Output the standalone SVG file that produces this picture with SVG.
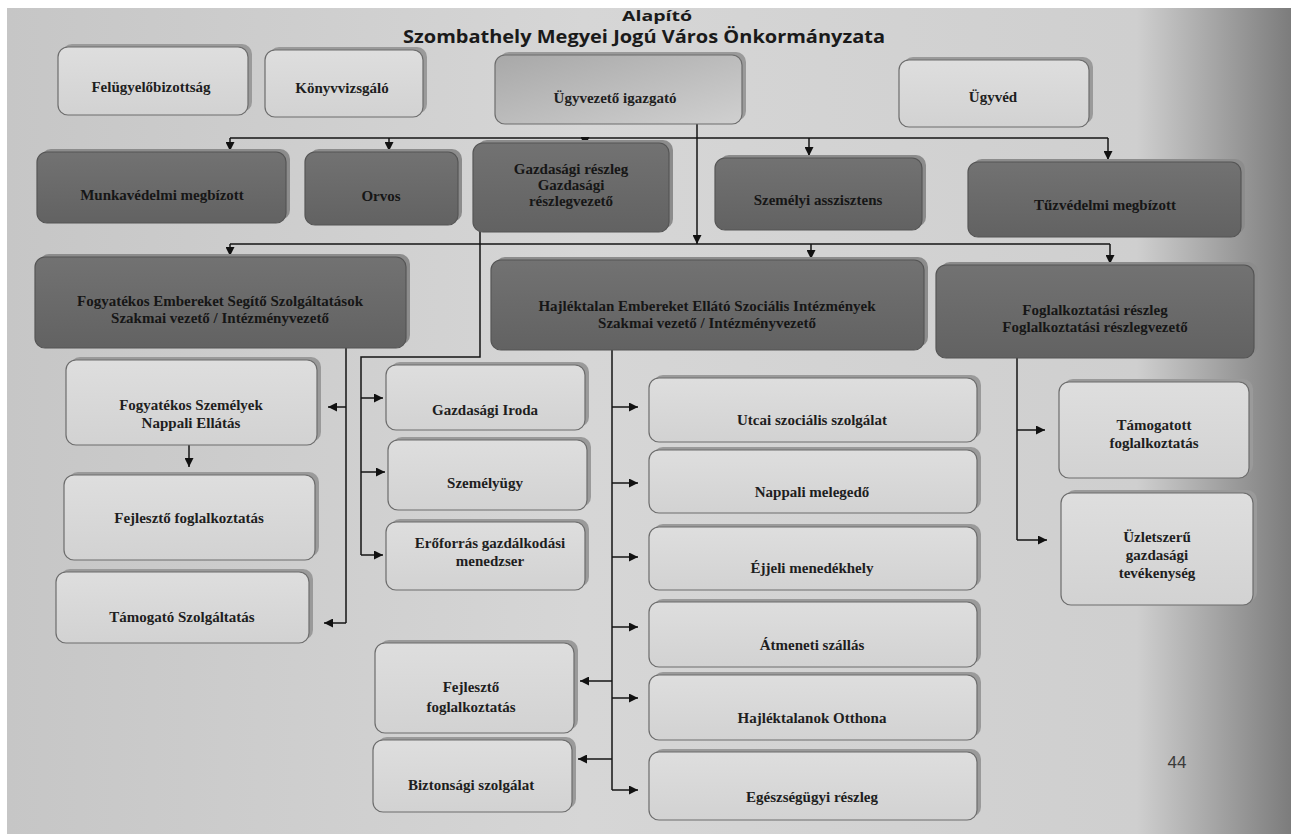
<svg xmlns="http://www.w3.org/2000/svg" width="1291" height="834" viewBox="0 0 1291 834">
<defs>
<linearGradient id="page" x1="0" y1="0" x2="1" y2="0">
<stop offset="0" stop-color="#c6c6c6"/>
<stop offset="0.45" stop-color="#d6d6d6"/>
<stop offset="0.88" stop-color="#cfcfcf"/>
<stop offset="1" stop-color="#7c7c7c"/>
</linearGradient>
<linearGradient id="light" x1="0" y1="0" x2="0" y2="1">
<stop offset="0" stop-color="#dedede"/>
<stop offset="1" stop-color="#d2d2d2"/>
</linearGradient>
<linearGradient id="boss" x1="0" y1="0" x2="1" y2="1">
<stop offset="0" stop-color="#a8a8a8"/>
<stop offset="1" stop-color="#d0d0d0"/>
</linearGradient>
<linearGradient id="dark" x1="0" y1="0" x2="0" y2="1">
<stop offset="0" stop-color="#727272"/>
<stop offset="1" stop-color="#626262"/>
</linearGradient>
<marker id="ah" viewBox="0 0 10 10" refX="10" refY="5" markerWidth="9" markerHeight="9" markerUnits="userSpaceOnUse" orient="auto">
<path d="M0,0 L10,5 L0,10 z" fill="#111"/>
</marker>
</defs>
<style>
.sh{fill:#9a9a9a}
.lb{fill:url(#light);stroke:#6d6d6d;stroke-width:1.2}
.db{fill:url(#dark);stroke:#555;stroke-width:1.2}
.shd{fill:#8c8c8c}
.t{font-family:"Liberation Serif","Times New Roman",serif;font-size:15px;font-weight:bold;fill:#1e1e1e;text-anchor:middle}
.td{font-family:"Liberation Serif","Times New Roman",serif;font-size:15px;font-weight:bold;fill:#161616;text-anchor:middle}
.ttl{font-family:"Open Sans","Liberation Sans",sans-serif;font-weight:bold;fill:#1a1a1a;text-anchor:middle}
.c{fill:none;stroke:#141414;stroke-width:1.5}
.a{fill:none;stroke:#141414;stroke-width:1.5;marker-end:url(#ah)}
</style>
<rect x="0" y="0" width="1291" height="834" fill="#ffffff"/>
<rect x="7" y="8" width="1284" height="826" fill="url(#page)"/>

<g id="title">
<text class="ttl" x="657" y="21" font-size="14" textLength="70" lengthAdjust="spacingAndGlyphs">Alapító</text>
<text class="ttl" x="644" y="43" font-size="17" textLength="482" lengthAdjust="spacingAndGlyphs">Szombathely Megyei Jogú Város Önkormányzata</text>
</g>

<g id="connectors">
<path class="c" d="M230,138 H1108"/>
<path class="a" d="M230,138 V151"/>
<path class="a" d="M389,138 V151"/>
<path class="a" d="M585,138 V146"/>
<path class="a" d="M809,138 V156"/>
<path class="a" d="M1108,138 V160"/>
<path class="a" d="M697,124 V244"/>
<path class="c" d="M230,244 H1110"/>
<path class="a" d="M230,244 V256"/>
<path class="a" d="M811,244 V259"/>
<path class="a" d="M1110,244 V264"/>
<path class="c" d="M480,232 V357 H361 V555"/>
<path class="a" d="M361,398 H383"/>
<path class="a" d="M361,472 H385"/>
<path class="a" d="M361,555 H383"/>
<path class="c" d="M346,348 V623"/>
<path class="a" d="M346,407 H328"/>
<path class="a" d="M346,623 H324"/>
<path class="a" d="M189,445 V467"/>
<path class="c" d="M612,350 V790"/>
<path class="a" d="M612,407 H638"/>
<path class="a" d="M612,483 H638"/>
<path class="a" d="M612,557 H638"/>
<path class="a" d="M612,627 H638"/>
<path class="a" d="M612,698 H638"/>
<path class="a" d="M612,790 H638"/>
<path class="a" d="M612,681 H580"/>
<path class="a" d="M612,759 H578"/>
<path class="c" d="M1017,358 V540"/>
<path class="a" d="M1017,430 H1045"/>
<path class="a" d="M1017,540 H1047"/>
</g>

<g id="n-felugyelo">
<rect class="sh" x="62" y="44" width="190" height="68" rx="10"/>
<rect class="lb" x="58" y="47" width="190" height="68" rx="10"/>
<text class="t" x="151" y="92">Felügyelőbizottság</text>
</g>
<g id="n-konyvvizsgalo">
<rect class="sh" x="269" y="47" width="158" height="67" rx="10"/>
<rect class="lb" x="265" y="50" width="158" height="67" rx="10"/>
<text class="t" x="342" y="93">Könyvvizsgáló</text>
</g>
<g id="n-ugyvezeto">
<rect class="sh" x="499" y="52" width="247" height="69" rx="10"/>
<rect x="495" y="55" width="247" height="69" rx="10" fill="url(#boss)" stroke="#6d6d6d" stroke-width="1.2"/>
<text class="t" x="615" y="103">Ügyvezető igazgató</text>
</g>
<g id="n-ugyved">
<rect class="sh" x="903" y="57" width="190" height="67" rx="10"/>
<rect class="lb" x="899" y="60" width="190" height="67" rx="10"/>
<text class="t" x="993" y="102">Ügyvéd</text>
</g>

<g id="n-munkavedelmi">
<rect class="shd" x="41" y="149" width="249" height="71" rx="10"/>
<rect class="db" x="37" y="152" width="249" height="71" rx="10"/>
<text class="td" x="162" y="200">Munkavédelmi megbízott</text>
</g>
<g id="n-orvos">
<rect class="shd" x="309" y="149" width="153" height="73" rx="10"/>
<rect class="db" x="305" y="152" width="153" height="73" rx="10"/>
<text class="td" x="381" y="201">Orvos</text>
</g>
<g id="n-gazdasagi">
<rect class="shd" x="477" y="140" width="196" height="89" rx="10"/>
<rect class="db" x="473" y="143" width="196" height="89" rx="10"/>
<text class="td" x="571" y="174">Gazdasági részleg</text>
<text class="td" x="571" y="190">Gazdasági</text>
<text class="td" x="571" y="206">részlegvezető</text>
</g>
<g id="n-szemelyi">
<rect class="shd" x="719" y="155" width="207" height="72" rx="10"/>
<rect class="db" x="715" y="158" width="207" height="72" rx="10"/>
<text class="td" x="818" y="205">Személyi asszisztens</text>
</g>
<g id="n-tuzvedelmi">
<rect class="shd" x="972" y="159" width="273" height="75" rx="10"/>
<rect class="db" x="968" y="162" width="273" height="75" rx="10"/>
<text class="td" x="1105" y="210">Tűzvédelmi megbízott</text>
</g>

<g id="n-fogyatekos">
<rect class="shd" x="39" y="254" width="371" height="91" rx="10"/>
<rect class="db" x="35" y="257" width="371" height="91" rx="10"/>
<text class="td" x="220" y="306">Fogyatékos Embereket Segítő Szolgáltatások</text>
<text class="td" x="220" y="323">Szakmai vezető / Intézményvezető</text>
</g>
<g id="n-hajlektalan">
<rect class="shd" x="495" y="257" width="433" height="90" rx="10"/>
<rect class="db" x="491" y="260" width="433" height="90" rx="10"/>
<text class="td" x="707" y="311">Hajléktalan Embereket Ellátó Szociális Intézmények</text>
<text class="td" x="707" y="328">Szakmai vezető / Intézményvezető</text>
</g>
<g id="n-foglalkoztatasi">
<rect class="shd" x="940" y="262" width="318" height="93" rx="10"/>
<rect class="db" x="936" y="265" width="318" height="93" rx="10"/>
<text class="td" x="1095" y="315">Foglalkoztatási részleg</text>
<text class="td" x="1095" y="332">Foglalkoztatási részlegvezető</text>
</g>

<g id="n-fsz-nappali">
<rect class="sh" x="70" y="357" width="251" height="85" rx="10"/>
<rect class="lb" x="66" y="360" width="251" height="85" rx="10"/>
<text class="t" x="191" y="410">Fogyatékos Személyek</text>
<text class="t" x="191" y="428">Nappali Ellátás</text>
</g>
<g id="n-fejleszto1">
<rect class="sh" x="68" y="472" width="251" height="85" rx="10"/>
<rect class="lb" x="64" y="475" width="251" height="85" rx="10"/>
<text class="t" x="189" y="523">Fejlesztő foglalkoztatás</text>
</g>
<g id="n-tamogato">
<rect class="sh" x="60" y="569" width="253" height="71" rx="10"/>
<rect class="lb" x="56" y="572" width="253" height="71" rx="10"/>
<text class="t" x="182" y="622">Támogató Szolgáltatás</text>
</g>

<g id="n-gazd-iroda">
<rect class="sh" x="390" y="362" width="199" height="65" rx="10"/>
<rect class="lb" x="386" y="365" width="199" height="65" rx="10"/>
<text class="t" x="485" y="415">Gazdasági Iroda</text>
</g>
<g id="n-szemelyugy">
<rect class="sh" x="392" y="437" width="199" height="70" rx="10"/>
<rect class="lb" x="388" y="440" width="199" height="70" rx="10"/>
<text class="t" x="485" y="488">Személyügy</text>
</g>
<g id="n-eroforras">
<rect class="sh" x="390" y="519" width="199" height="68" rx="10"/>
<rect class="lb" x="386" y="522" width="199" height="68" rx="10"/>
<text class="t" x="490" y="548">Erőforrás gazdálkodási</text>
<text class="t" x="490" y="566">menedzser</text>
</g>
<g id="n-fejleszto2">
<rect class="sh" x="379" y="640" width="199" height="90" rx="10"/>
<rect class="lb" x="375" y="643" width="199" height="90" rx="10"/>
<text class="t" x="471" y="692">Fejlesztő</text>
<text class="t" x="471" y="712">foglalkoztatás</text>
</g>
<g id="n-biztonsagi">
<rect class="sh" x="377" y="737" width="199" height="72" rx="10"/>
<rect class="lb" x="373" y="740" width="199" height="72" rx="10"/>
<text class="t" x="471" y="790">Biztonsági szolgálat</text>
</g>

<g id="n-utcai">
<rect class="sh" x="653" y="375" width="328" height="64" rx="10"/>
<rect class="lb" x="649" y="378" width="328" height="64" rx="10"/>
<text class="t" x="812" y="425">Utcai szociális szolgálat</text>
</g>
<g id="n-nappali-melegedo">
<rect class="sh" x="653" y="447" width="328" height="63" rx="10"/>
<rect class="lb" x="649" y="450" width="328" height="63" rx="10"/>
<text class="t" x="812" y="497">Nappali melegedő</text>
</g>
<g id="n-ejjeli">
<rect class="sh" x="653" y="524" width="328" height="63" rx="10"/>
<rect class="lb" x="649" y="527" width="328" height="63" rx="10"/>
<text class="t" x="812" y="573">Éjjeli menedékhely</text>
</g>
<g id="n-atmeneti">
<rect class="sh" x="653" y="599" width="328" height="65" rx="10"/>
<rect class="lb" x="649" y="602" width="328" height="65" rx="10"/>
<text class="t" x="812" y="650">Átmeneti szállás</text>
</g>
<g id="n-otthona">
<rect class="sh" x="653" y="672" width="328" height="65" rx="10"/>
<rect class="lb" x="649" y="675" width="328" height="65" rx="10"/>
<text class="t" x="812" y="723">Hajléktalanok Otthona</text>
</g>
<g id="n-egeszsegugyi">
<rect class="sh" x="653" y="749" width="328" height="68" rx="10"/>
<rect class="lb" x="649" y="752" width="328" height="68" rx="10"/>
<text class="t" x="812" y="802">Egészségügyi részleg</text>
</g>

<g id="n-tamogatott">
<rect class="sh" x="1063" y="379" width="190" height="96" rx="10"/>
<rect class="lb" x="1059" y="382" width="190" height="96" rx="10"/>
<text class="t" x="1154" y="430">Támogatott</text>
<text class="t" x="1154" y="448">foglalkoztatás</text>
</g>
<g id="n-uzletszeru">
<rect class="sh" x="1065" y="490" width="192" height="112" rx="10"/>
<rect class="lb" x="1061" y="493" width="192" height="112" rx="10"/>
<text class="t" x="1157" y="542">Üzletszerű</text>
<text class="t" x="1157" y="560">gazdasági</text>
<text class="t" x="1157" y="578">tevékenység</text>
</g>

<text x="1177" y="768" font-family="Liberation Sans, Arial, sans-serif" font-size="17" fill="#3a3a3a" text-anchor="middle">44</text>
</svg>
